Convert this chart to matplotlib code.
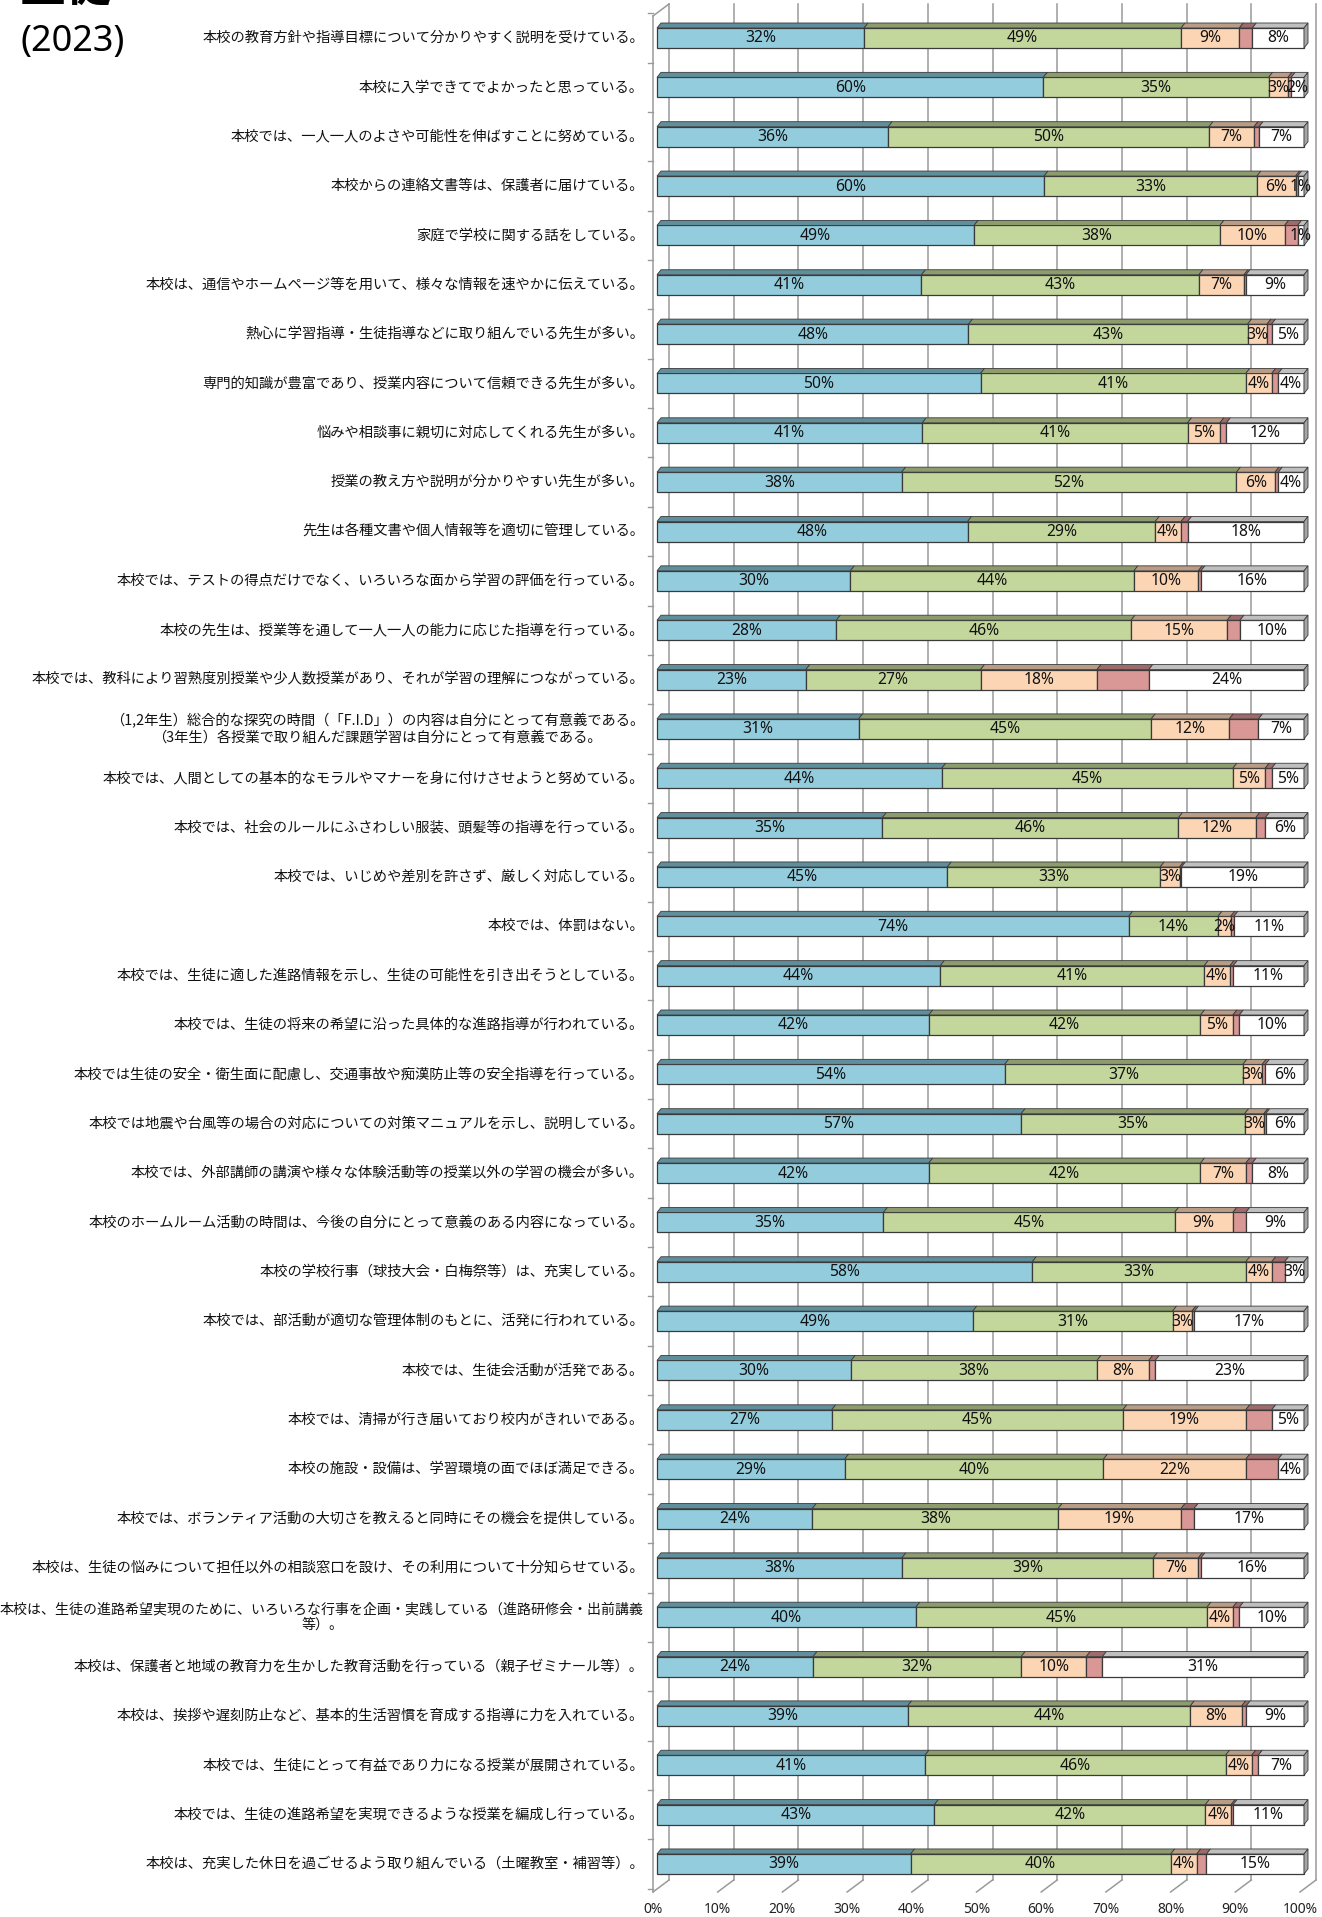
import matplotlib
matplotlib.use('Agg')
import matplotlib.pyplot as plt
from matplotlib.patches import Polygon
import numpy as np

# ---------------- data ----------------
categories = [
    "本校の教育方針や指導目標について分かりやすく説明を受けている。",
    "本校に入学できてでよかったと思っている。",
    "本校では、一人一人のよさや可能性を伸ばすことに努めている。",
    "本校からの連絡文書等は、保護者に届けている。",
    "家庭で学校に関する話をしている。",
    "本校は、通信やホームページ等を用いて、様々な情報を速やかに伝えている。",
    "熱心に学習指導・生徒指導などに取り組んでいる先生が多い。",
    "専門的知識が豊富であり、授業内容について信頼できる先生が多い。",
    "悩みや相談事に親切に対応してくれる先生が多い。",
    "授業の教え方や説明が分かりやすい先生が多い。",
    "先生は各種文書や個人情報等を適切に管理している。",
    "本校では、テストの得点だけでなく、いろいろな面から学習の評価を行っている。",
    "本校の先生は、授業等を通して一人一人の能力に応じた指導を行っている。",
    "本校では、教科により習熟度別授業や少人数授業があり、それが学習の理解につながっている。",
    "（1,2年生）総合的な探究の時間（「F.I.D」）の内容は自分にとって有意義である。\n（3年生）各授業で取り組んだ課題学習は自分にとって有意義である。",
    "本校では、人間としての基本的なモラルやマナーを身に付けさせようと努めている。",
    "本校では、社会のルールにふさわしい服装、頭髪等の指導を行っている。",
    "本校では、いじめや差別を許さず、厳しく対応している。",
    "本校では、体罰はない。",
    "本校では、生徒に適した進路情報を示し、生徒の可能性を引き出そうとしている。",
    "本校では、生徒の将来の希望に沿った具体的な進路指導が行われている。",
    "本校では生徒の安全・衛生面に配慮し、交通事故や痴漢防止等の安全指導を行っている。",
    "本校では地震や台風等の場合の対応についての対策マニュアルを示し、説明している。",
    "本校では、外部講師の講演や様々な体験活動等の授業以外の学習の機会が多い。",
    "本校のホームルーム活動の時間は、今後の自分にとって意義のある内容になっている。",
    "本校の学校行事（球技大会・白梅祭等）は、充実している。",
    "本校では、部活動が適切な管理体制のもとに、活発に行われている。",
    "本校では、生徒会活動が活発である。",
    "本校では、清掃が行き届いており校内がきれいである。",
    "本校の施設・設備は、学習環境の面でほぼ満足できる。",
    "本校では、ボランティア活動の大切さを教えると同時にその機会を提供している。",
    "本校は、生徒の悩みについて担任以外の相談窓口を設け、その利用について十分知らせている。",
    "本校は、生徒の進路希望実現のために、いろいろな行事を企画・実践している（進路研修会・出前講義\n等）。",
    "本校は、保護者と地域の教育力を生かした教育活動を行っている（親子ゼミナール等）。",
    "本校は、挨拶や遅刻防止など、基本的生活習慣を育成する指導に力を入れている。",
    "本校では、生徒にとって有益であり力になる授業が展開されている。",
    "本校では、生徒の進路希望を実現できるような授業を編成し行っている。",
    "本校は、充実した休日を過ごせるよう取り組んでいる（土曜教室・補習等）。",
]

s_blue = [32, 60, 36, 60, 49, 41, 48, 50, 41, 38, 48, 30, 28, 23, 31, 44, 35, 45, 74,
          44, 42, 54, 57, 42, 35, 58, 49, 30, 27, 29, 24, 38, 40, 24, 39, 41, 43, 39]
s_green = [49, 35, 50, 33, 38, 43, 43, 41, 41, 52, 29, 44, 46, 27, 45, 45, 46, 33, 14,
           41, 42, 37, 35, 42, 45, 33, 31, 38, 45, 40, 38, 39, 45, 32, 44, 46, 42, 40]
s_peach = [9, 3, 7, 6, 10, 7, 3, 4, 5, 6, 4, 10, 15, 18, 12, 5, 12, 3, 2,
           4, 5, 3, 3, 7, 9, 4, 3, 8, 19, 22, 19, 7, 4, 10, 8, 4, 4, 4]
s_red = [2, 0.5, 0.8, 0.3, 2, 0.3, 0.7, 1, 1, 0.5, 1, 0.4, 2, 8, 4.5, 1, 1.5, 0.3, 0.5,
         0.5, 1, 0.5, 0.3, 1, 2, 2, 0.4, 1, 4, 5, 2, 0.4, 1, 2.5, 0.7, 1, 0.3, 1.5]
s_white = [8, 2, 7, 1, 1, 9, 5, 4, 12, 4, 18, 16, 10, 24, 7, 5, 6, 19, 11,
           11, 10, 6, 6, 8, 9, 3, 17, 23, 5, 4, 17, 16, 10, 31, 9, 7, 11, 15]

series = [s_blue, s_green, s_peach, s_red, s_white]
front_colors = ["#93CDDD", "#C3D69B", "#FCD5B5", "#D99795", "#FFFFFF"]
top_colors = ["#5F8F9C", "#8C9C6C", "#B89C85", "#9E6B6A", "#BFBFBF"]
side_color = "#A5A5A5"
show_label = [True, True, True, False, True]

x_ticks = [0, 10, 20, 30, 40, 50, 60, 70, 80, 90, 100]
x_tick_labels = [f"{t}%" for t in x_ticks]

title_top = "生徒"
title_year = "(2023)"

# ---------------- layout ----------------
W, H, DPI = 1322, 1917, 100
plt.rcParams['font.family'] = ['Noto Sans CJK JP', 'DejaVu Sans']

fig = plt.figure(figsize=(W / DPI, H / DPI), dpi=DPI)
fig.patch.set_facecolor('white')

X0_PX, X100_PX = 657, 1304
ROW0_PX, ROW_STEP = 38.0, 49.35
AX_L, AX_R, AX_T, AX_B = 600, 1322, 0, 1917
ax = fig.add_axes([AX_L / W, 1 - AX_B / H, (AX_R - AX_L) / W, (AX_B - AX_T) / H])
pxx = (X100_PX - X0_PX) / 100.0
ax.set_xlim((AX_L - X0_PX) / pxx, (AX_R - X0_PX) / pxx)
ax.set_ylim((AX_B - ROW0_PX) / ROW_STEP, (AX_T - ROW0_PX) / ROW_STEP)
ax.axis('off')


def ypx(p):
    return (p - ROW0_PX) / ROW_STEP


def xpx(p):
    return (p - X0_PX) / pxx


BH = 20.0 / ROW_STEP          # front face height
DX = 4.0 / pxx                # depth shift right
DY = 5.0 / ROW_STEP           # depth shift up
BACK = 12.0 / pxx             # back wall offset
FRONT = -4.0 / pxx            # front floor offset

grid_c = "#9A9A9A"
# back wall gridlines + floor diagonals
for t in x_ticks:
    ax.plot([t + BACK, t + BACK], [ypx(4), ypx(1880)], color=grid_c, lw=1.1, zorder=1)
    ax.plot([t + FRONT, t + BACK], [ypx(1892), ypx(1880)], color=grid_c, lw=1.1, zorder=1)
# left wall
ax.plot([FRONT, FRONT], [ypx(16), ypx(1892)], color=grid_c, lw=1.1, zorder=1)
ax.plot([FRONT, BACK], [ypx(16), ypx(4)], color=grid_c, lw=1.1, zorder=1)
n = len(categories)
for i in range(n + 1):
    yb = i - 0.5
    ax.plot([FRONT - 5 / pxx, FRONT], [yb, yb], color=grid_c, lw=1.0, zorder=1)

# tick labels
for t, lab in zip(x_ticks, x_tick_labels):
    ax.text(t + FRONT, ypx(1909), lab, ha='center', va='center', fontsize=10,
            family=['Noto Sans', 'DejaVu Sans'], color='#222222')

edge = "#3A3A3A"
data = np.array(series, dtype=float)
totals = data.sum(axis=0)
for i in range(n):
    left = 0.0
    y = i
    ytop = y - BH / 2
    for k in range(len(series)):
        v = data[k, i]
        w = v / totals[i] * 100.0
        right = left + w
        if w > 0:
            ax.barh(y, w, left=left, height=BH, color=front_colors[k], edgecolor=edge,
                    linewidth=0.9, zorder=3)
            top = Polygon([(left, ytop), (right, ytop), (right + DX, ytop - DY), (left + DX, ytop - DY)],
                          closed=True, facecolor=top_colors[k], edgecolor=edge, linewidth=0.6, zorder=3)
            ax.add_patch(top)
            if show_label[k]:
                ax.text((left + right) / 2, y + 0.01, f"{int(round(v))}%", ha='center', va='center',
                        fontsize=11.3, family=['Noto Sans', 'DejaVu Sans'], color='#111111', zorder=5)
        left = right
    side = Polygon([(left, ytop), (left + DX, ytop - DY), (left + DX, y + BH / 2 - DY), (left, y + BH / 2)],
                   closed=True, facecolor=side_color, edgecolor=edge, linewidth=0.6, zorder=3)
    ax.add_patch(side)

# category labels (shrink a label only if it would run off the left edge)
renderer = fig.canvas.get_renderer()
for i, lab in enumerate(categories):
    t = ax.text(xpx(644), i, lab, ha='right', va='center', multialignment='center',
                fontsize=10.3, color='#111111', linespacing=1.15, clip_on=False)
    bb = t.get_window_extent(renderer)
    if bb.x0 < 4:
        avail = 644 - 4
        t.set_fontsize(10.3 * avail / bb.width)

# title
fig.text(20 / W, 1 - 2 / H, title_top, ha='left', va='baseline', fontsize=33, fontweight='bold')
fig.text(20 / W, 1 - 42 / H, title_year, ha='left', va='center', fontsize=26,
         family=['Noto Sans', 'DejaVu Sans'])

fig.savefig('out.png', dpi=DPI, facecolor='white')
